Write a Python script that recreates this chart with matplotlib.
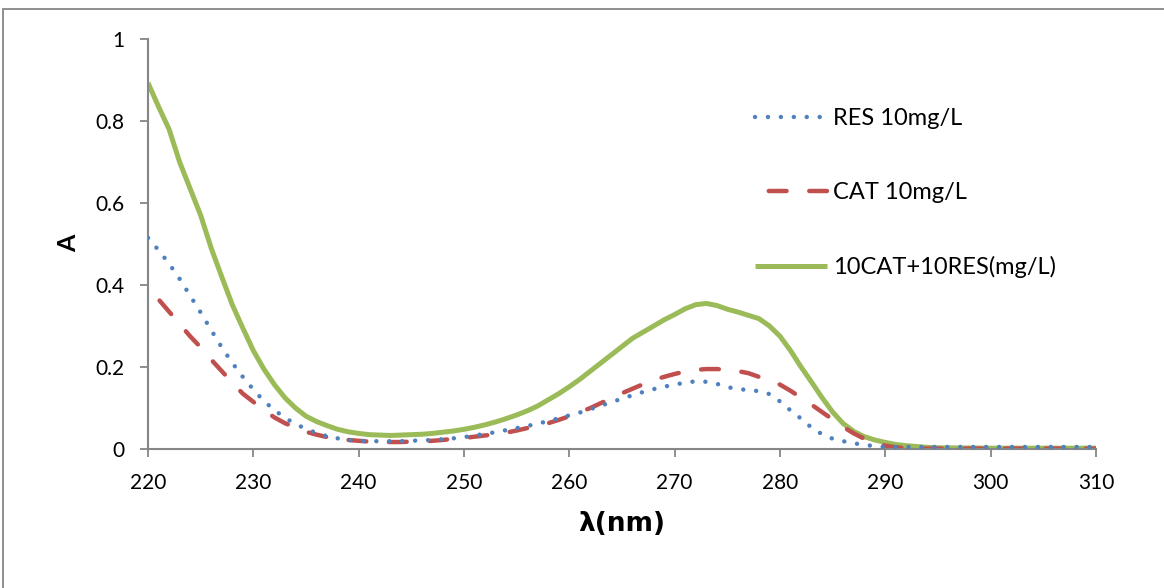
import matplotlib
matplotlib.use("Agg")
import matplotlib.pyplot as plt
from matplotlib.patches import Rectangle

plt.rcParams['font.family'] = ['Lato', 'DejaVu Sans']

# Wavelength grid (nm)
wl = list(range(220, 295)) + [295, 300, 305, 310]

res = [0.515, 0.485, 0.452, 0.415, 0.374, 0.333, 0.290, 0.248, 0.210, 0.176,
       0.145, 0.117, 0.095, 0.076, 0.061, 0.049, 0.039, 0.031, 0.026, 0.022,
       0.020, 0.019, 0.019, 0.019, 0.019, 0.020, 0.021, 0.022, 0.024, 0.026,
       0.029, 0.033, 0.037, 0.041, 0.046, 0.051, 0.056, 0.062, 0.068, 0.075,
       0.082, 0.089, 0.097, 0.106, 0.114, 0.123, 0.131, 0.139, 0.146, 0.152,
       0.157, 0.162, 0.165, 0.164, 0.159, 0.151, 0.146, 0.144, 0.141, 0.134,
       0.116, 0.094, 0.074, 0.052, 0.036, 0.025, 0.019, 0.014, 0.010, 0.007,
       0.005, 0.005, 0.005, 0.005, 0.005,
       0.005, 0.005, 0.005, 0.005]

cat = [0.380, 0.365, 0.335, 0.305, 0.275, 0.248, 0.218, 0.190, 0.162, 0.135,
       0.115, 0.095, 0.077, 0.063, 0.052, 0.042, 0.035, 0.029, 0.025, 0.022,
       0.020, 0.018, 0.017, 0.017, 0.017, 0.018, 0.019, 0.020, 0.022, 0.025,
       0.027, 0.030, 0.033, 0.036, 0.040, 0.045, 0.051, 0.057, 0.063, 0.071,
       0.080, 0.090, 0.100, 0.112, 0.124, 0.136, 0.147, 0.158, 0.168, 0.176,
       0.183, 0.189, 0.193, 0.195, 0.195, 0.193, 0.190, 0.185, 0.176, 0.166,
       0.157, 0.142, 0.125, 0.108, 0.090, 0.072, 0.054, 0.038, 0.025, 0.015,
       0.008, 0.004, 0.002, 0.001, 0.001,
       0.001, 0.001, 0.001, 0.001]

mix = [0.893, 0.835, 0.780, 0.700, 0.635, 0.570, 0.490, 0.420, 0.352, 0.295,
       0.240, 0.195, 0.157, 0.125, 0.100, 0.080, 0.067, 0.057, 0.048, 0.042,
       0.038, 0.035, 0.034, 0.033, 0.034, 0.035, 0.036, 0.038, 0.041, 0.044,
       0.048, 0.053, 0.059, 0.066, 0.074, 0.083, 0.093, 0.105, 0.120, 0.135,
       0.152, 0.170, 0.190, 0.210, 0.230, 0.250, 0.270, 0.285, 0.300, 0.315,
       0.328, 0.342, 0.352, 0.355, 0.350, 0.341, 0.334, 0.326, 0.318, 0.300,
       0.275, 0.240, 0.200, 0.163, 0.125, 0.090, 0.062, 0.043, 0.030, 0.022,
       0.016, 0.011, 0.008, 0.006, 0.004,
       0.003, 0.002, 0.002, 0.002]

labels = ["RES 10mg/L", "CAT 10mg/L", "10CAT+10RES(mg/L)"]
x_ticks = [220, 230, 240, 250, 260, 270, 280, 290, 300, 310]
y_ticks = [0, 0.2, 0.4, 0.6, 0.8, 1]
y_ticklabels = ["0", "0.2", "0.4", "0.6", "0.8", "1"]

BLUE = "#4F81BD"
RED = "#C0504D"
GREEN = "#9BBB59"
AXIS = "#868686"

W, H = 1164, 588
fig = plt.figure(figsize=(W / 100, H / 100), dpi=100)
x0, x1, y0, y1 = 148, 1096, 449, 39
ax = fig.add_axes([x0 / W, 1 - y0 / H, (x1 - x0) / W, (y0 - y1) / H])

ax.plot(wl, res, color=BLUE, lw=3.2, linestyle=(0, (0.01, 2.9)),
        dash_capstyle='round', label=labels[0], zorder=3)
ax.plot(wl, cat, color=RED, lw=3.2, linestyle=(6.0, (4.0, 5.1)),
        dash_capstyle='round', label=labels[1], zorder=2)
ax.plot(wl, mix, color=GREEN, lw=3.6, solid_capstyle='butt',
        solid_joinstyle='round', label=labels[2], zorder=1)

ax.set_xlim(220, 310)
ax.set_ylim(0, 1)
ax.set_xticks(x_ticks)
ax.set_xticklabels([str(v) for v in x_ticks])
ax.set_yticks(y_ticks)
ax.set_yticklabels(y_ticklabels)

for side in ("top", "right"):
    ax.spines[side].set_visible(False)
for side in ("left", "bottom"):
    ax.spines[side].set_color(AXIS)
    ax.spines[side].set_linewidth(1.5)
ax.tick_params(axis='both', direction='out', length=6, width=1.3,
               color=AXIS, labelsize=15, labelcolor='black')
ax.tick_params(axis='x', pad=11)
ax.tick_params(axis='y', pad=11)

ax.set_xlabel("λ(nm)", fontsize=19, fontweight='bold', va='center',
              family=['DejaVu Sans'])
ax.xaxis.set_label_coords(0.5, (y0 - 524) / (y0 - y1))
ax.set_ylabel("A", fontsize=18, fontweight='bold', va='center')
ax.yaxis.set_label_coords((69 - x0) / (x1 - x0), (y0 - 243) / (y0 - y1))

ax.legend(loc='upper left',
          bbox_to_anchor=((755 - x0) / (x1 - x0), (y0 - 108) / (y0 - y1)),
          frameon=False, fontsize=17, handlelength=3.05,
          handletextpad=0.25, labelspacing=2.25, borderpad=0,
          borderaxespad=0)

# outer chart-area frame
fig.patches.append(Rectangle((3 / W, -0.1), 1.2, 1 - 9 / H + 0.1,
                             transform=fig.transFigure, fill=False,
                             edgecolor=AXIS, linewidth=1.3))

fig.savefig("out.png", dpi=100, facecolor='white')
